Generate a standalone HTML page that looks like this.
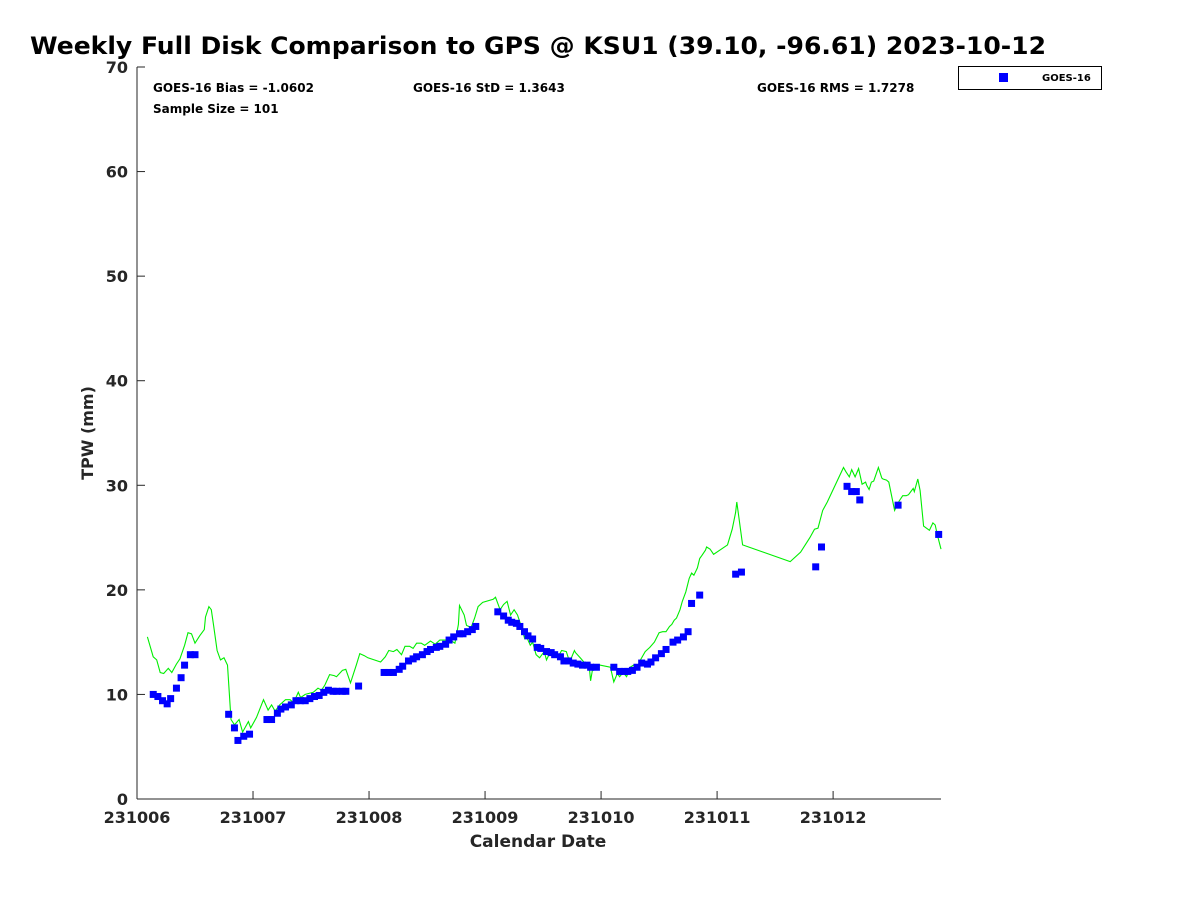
<!DOCTYPE html>
<html><head><meta charset="utf-8"><style>
html,body{margin:0;padding:0;background:#fff;}
svg{display:block;font-family:"DejaVu Sans","Liberation Sans",sans-serif;}
</style></head><body>
<svg id="chart" width="1200" height="900" viewBox="0 0 1200 900">
<text x="30" y="54" font-size="24" font-weight="bold" textLength="1016" lengthAdjust="spacingAndGlyphs">Weekly Full Disk Comparison to GPS @ KSU1 (39.10, -96.61) 2023-10-12</text>
<g id="axes"></g>
<g id="series"></g>
<text x="153" y="92" font-size="12" font-weight="bold">GOES-16 Bias = -1.0602</text>
<text x="413" y="92" font-size="12" font-weight="bold">GOES-16 StD = 1.3643</text>
<text x="757" y="92" font-size="12" font-weight="bold">GOES-16 RMS = 1.7278</text>
<text x="153" y="113" font-size="12" font-weight="bold">Sample Size = 101</text>
<g>
<rect x="958.5" y="66.5" width="143" height="23" fill="#fff" stroke="#000" stroke-width="1"/>
<rect x="999" y="73" width="9" height="9" fill="#0000ff"/>
<text x="1042" y="81" font-size="10" font-weight="bold">GOES-16</text>
</g>
<text x="538" y="847" font-size="17" font-weight="bold" text-anchor="middle" fill="#262626">Calendar Date</text>
<text transform="translate(93,433) rotate(-90)" font-size="16" font-weight="bold" text-anchor="middle" fill="#262626">TPW (mm)</text>
</svg>
<script>
const xTickLabels = ["231006","231007","231008","231009","231010","231011","231012"];
const yTickLabels = [0,10,20,30,40,50,60,70];
const goesDays = [0.14,0.18,0.22,0.26,0.29,0.34,0.38,0.41,0.46,0.50,0.79,0.84,0.87,0.92,0.97,1.12,1.16,1.21,1.24,1.28,1.33,1.37,1.41,1.45,1.49,1.53,1.57,1.61,1.65,1.69,1.72,1.77,1.80,1.91,2.13,2.17,2.21,2.26,2.29,2.34,2.38,2.41,2.46,2.50,2.53,2.58,2.61,2.66,2.69,2.73,2.78,2.81,2.85,2.89,2.92,3.11,3.16,3.20,3.23,3.27,3.30,3.34,3.37,3.41,3.45,3.48,3.53,3.57,3.60,3.65,3.68,3.72,3.76,3.80,3.84,3.88,3.91,3.96,4.11,4.16,4.20,4.23,4.27,4.31,4.35,4.40,4.43,4.47,4.52,4.56,4.62,4.66,4.71,4.75,4.78,4.85,5.16,5.21,5.85,5.90,6.12,6.16,6.20,6.23,6.56,6.91];
const goesTPW = [10.0,9.8,9.4,9.1,9.6,10.6,11.6,12.8,13.8,13.8,8.1,6.8,5.6,6.0,6.2,7.6,7.6,8.2,8.6,8.8,9.0,9.4,9.4,9.4,9.6,9.8,9.9,10.2,10.4,10.3,10.3,10.3,10.3,10.8,12.1,12.1,12.1,12.4,12.7,13.2,13.4,13.6,13.8,14.1,14.3,14.5,14.6,14.8,15.2,15.5,15.8,15.8,16.0,16.2,16.5,17.9,17.5,17.1,16.9,16.8,16.5,16.0,15.6,15.3,14.5,14.4,14.1,14.0,13.8,13.6,13.2,13.2,13.0,12.9,12.8,12.8,12.6,12.6,12.6,12.2,12.2,12.2,12.3,12.6,13.0,12.9,13.1,13.5,13.9,14.3,15.0,15.2,15.5,16.0,18.7,19.5,21.5,21.7,22.2,24.1,29.9,29.4,29.4,28.6,28.1,25.3];
const gpsDays = [0.09,0.14,0.17,0.20,0.23,0.27,0.30,0.34,0.37,0.41,0.44,0.47,0.50,0.54,0.58,0.59,0.62,0.64,0.66,0.69,0.72,0.75,0.78,0.81,0.84,0.88,0.91,0.96,0.98,1.03,1.09,1.13,1.16,1.19,1.23,1.28,1.32,1.35,1.39,1.41,1.45,1.52,1.56,1.59,1.62,1.66,1.70,1.72,1.77,1.80,1.84,1.89,1.92,1.96,1.99,2.10,2.14,2.17,2.21,2.24,2.28,2.31,2.35,2.38,2.41,2.45,2.48,2.53,2.57,2.61,2.66,2.70,2.74,2.77,2.78,2.82,2.84,2.88,2.91,2.94,2.98,3.07,3.09,3.13,3.16,3.19,3.22,3.25,3.28,3.31,3.34,3.35,3.39,3.41,3.44,3.47,3.51,3.53,3.56,3.59,3.64,3.66,3.70,3.73,3.77,3.78,3.82,3.86,3.90,3.91,3.93,3.99,4.08,4.11,4.14,4.16,4.19,4.22,4.25,4.28,4.31,4.34,4.38,4.42,4.46,4.50,4.53,4.56,4.59,4.61,4.63,4.65,4.68,4.70,4.73,4.76,4.78,4.80,4.83,4.85,4.87,4.90,4.91,4.94,4.97,5.09,5.13,5.16,5.17,5.22,5.63,5.72,5.80,5.84,5.87,5.91,5.95,6.09,6.11,6.14,6.16,6.19,6.22,6.25,6.28,6.29,6.31,6.33,6.35,6.39,6.42,6.43,6.46,6.48,6.53,6.57,6.60,6.63,6.65,6.69,6.70,6.73,6.75,6.78,6.83,6.86,6.88,6.90,6.93];
const gpsTPW = [15.5,13.6,13.3,12.1,12.0,12.5,12.1,12.9,13.4,14.7,15.9,15.8,14.9,15.6,16.2,17.4,18.4,18.1,16.6,14.2,13.3,13.5,12.8,7.6,7.1,7.6,6.4,7.4,6.8,7.8,9.5,8.5,9.0,8.4,9.0,9.5,9.5,9.2,10.2,9.7,10.0,10.2,10.6,10.4,10.9,11.9,11.8,11.7,12.3,12.4,11.1,12.8,13.9,13.7,13.5,13.1,13.6,14.2,14.1,14.3,13.8,14.6,14.6,14.4,14.9,14.9,14.7,15.1,14.8,15.2,15.2,15.2,14.9,16.7,18.5,17.6,16.6,16.4,17.3,18.4,18.8,19.1,19.3,18.1,18.6,18.9,17.6,18.1,17.6,16.6,15.4,15.7,14.7,15.0,13.8,13.5,14.1,13.3,14.0,13.6,13.8,14.2,14.1,13.1,14.2,14.0,13.5,13.0,12.4,11.3,12.6,12.8,12.6,11.2,12.0,11.7,12.1,11.7,12.6,12.8,12.5,13.3,14.1,14.5,15.0,15.9,16.0,16.0,16.5,16.7,17.1,17.3,18.1,18.9,19.8,21.1,21.6,21.4,22.1,23.0,23.3,23.8,24.1,23.9,23.4,24.3,25.8,27.4,28.4,24.3,22.7,23.6,25.0,25.8,25.9,27.6,28.4,31.7,31.3,30.8,31.5,30.8,31.6,30.1,30.3,30.0,29.6,30.3,30.4,31.7,30.7,30.6,30.5,30.3,27.6,28.5,29.0,29.0,29.1,29.7,29.4,30.6,29.5,26.1,25.7,26.4,26.2,25.2,23.9];

const NS = "http://www.w3.org/2000/svg";
const L = 137, R = 941, T = 67, B = 799;
const xMin = 0, xMax = 6.93, yMin = 0, yMax = 70;
const xs = d => L + (d - xMin) / (xMax - xMin) * (R - L);
const ys = v => B - (v - yMin) / (yMax - yMin) * (B - T);
function mk(tag, attrs, parent){ const e = document.createElementNS(NS, tag); for (const k in attrs) e.setAttribute(k, attrs[k]); parent.appendChild(e); return e; }

const axes = document.getElementById("axes");
const yl = mk("line", {x1:L, y1:T, x2:L, y2:B, stroke:"#262626", "stroke-width":1}, axes);


const xl = mk("line", {x1:L, y1:B, x2:R, y2:B, stroke:"#262626", "stroke-width":1}, axes);


yTickLabels.forEach(v => {
  const y = ys(v);
  const tk = mk("line", {x1:L, y1:y, x2:L+8, y2:y, stroke:"#262626", "stroke-width":1}, axes);
  
  
  const t = mk("text", {x:L-9, y:y+6, "font-size":16, "font-weight":"bold", "text-anchor":"end", fill:"#262626"}, axes);
  t.textContent = v;
  
  
});
xTickLabels.forEach((s, i) => {
  const x = xs(i);
  const tk = mk("line", {x1:x, y1:B, x2:x, y2:B-8, stroke:"#262626", "stroke-width":1}, axes);
  
  
  const t = mk("text", {x:x, y:B+24, "font-size":16, "font-weight":"bold", "text-anchor":"middle", fill:"#262626"}, axes);
  t.textContent = s;
  
  
});

const series = document.getElementById("series");
const pts = gpsDays.map((d, i) => xs(d).toFixed(1) + "," + ys(gpsTPW[i]).toFixed(1)).join(" ");
const line = mk("polyline", {points:pts, fill:"none", stroke:"#00ee00", "stroke-width":1.1}, series);


goesDays.forEach((d, i) => {
  const r = mk("rect", {x:xs(d)-3.5, y:ys(goesTPW[i])-3.5, width:7, height:7, fill:"#0000ff"}, series);
  
  
});
</script>
</body></html>
